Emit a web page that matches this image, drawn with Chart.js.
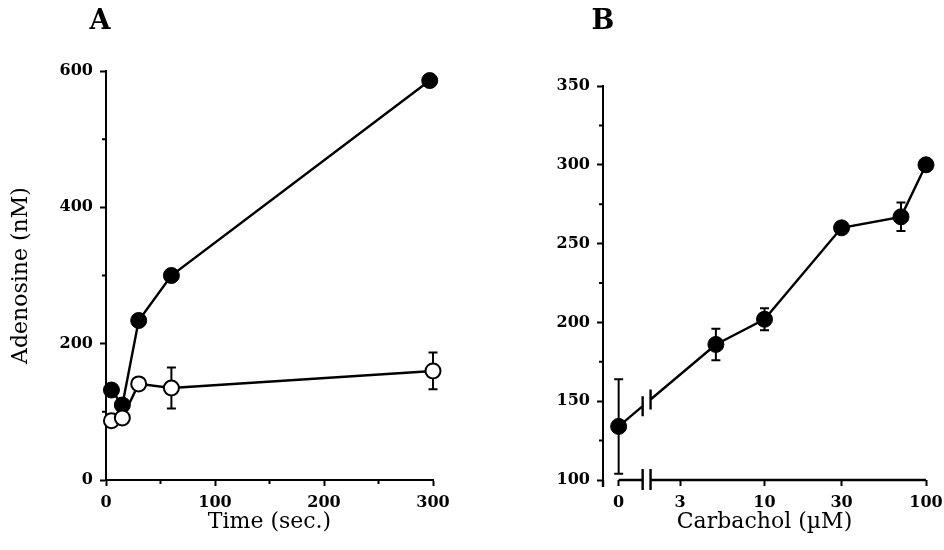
<!DOCTYPE html>
<html>
<head>
<meta charset="utf-8">
<script src="https://cdn.jsdelivr.net/npm/chart.js@4.4.1/dist/chart.umd.min.js"></script>
<style>
  body { margin: 0; background: #fff; }
  #wrap { position: relative; width: 944px; height: 550px; overflow: hidden; }
  canvas { position: absolute; top: 0; }
  #chartA { left: 0; }
  #chartB { left: 470px; }
</style>
</head>
<body>
<div id="wrap">
  <canvas id="chartA" width="480" height="550"></canvas>
  <canvas id="chartB" width="474" height="550"></canvas>
</div>
<script>
// panel A: adenosine vs time
const timeFilled = [5, 15, 30, 60, 297];
const adenoFilled = [132, 110, 234, 300, 586];
const timeOpen = [5, 15, 30, 60, 300];
const adenoOpen = [87, 91, 141, 135, 160];
const errOpen = [0, 0, 0, 30, 27];
const timeTicks = [0, 100, 200, 300];
const timeMinor = [50, 150, 250];
const adenoTicksA = [0, 200, 400, 600];
const adenoMinorA = [100, 300, 500];

// panel B: adenosine vs carbachol (log axis with a break after 0)
const carbachol = [0, 5, 10, 30, 70, 100];
const adenoB = [134, 186, 202, 260, 267, 300];
const errB = [30, 10, 7, 0, 9, 0];
const carbTicks = [0, 3, 10, 30, 100];
const carbTickLabels = ['0', '3', '10', '30', '100'];
const adenoTicksB = [100, 150, 200, 250, 300, 350];
const adenoMinorB = [125, 175, 225, 275, 325];
const ZERO_POS = 1.25;          // where "0" sits on the log axis
const breakAt = [1.76, 1.97];   // axis break between these values

const SERIF = '"DejaVu Serif", "Liberation Serif", serif';
const black = '#000';

function xyPoints(xs, ys) {
  return xs.map((x, i) => ({ x, y: ys[i] }));
}

function tickStyle() {
  return {
    grid: { display: true, drawOnChartArea: false, drawTicks: true, tickLength: 6, tickWidth: 2, tickColor: black },
    border: { display: true, color: black, width: 2 },
    ticks: { color: black, font: { family: SERIF, size: 16, weight: 'bold' }, padding: 7, autoSkip: false, maxRotation: 0 }
  };
}

const titleFont = { family: SERIF, size: 22 };

const errorBars = {
  id: 'errorBars',
  beforeDatasetsDraw(chart) {
    const ctx = chart.ctx;
    const yScale = chart.scales.y;
    ctx.save();
    ctx.strokeStyle = black;
    ctx.lineWidth = 2;
    chart.data.datasets.forEach((ds, i) => {
      if (!ds.errors) return;
      const meta = chart.getDatasetMeta(i);
      meta.data.forEach((pt, j) => {
        const e = ds.errors[j];
        if (!e) return;
        const v = ds.data[j].y;
        const top = yScale.getPixelForValue(v + e);
        const bot = yScale.getPixelForValue(v - e);
        ctx.beginPath();
        ctx.moveTo(pt.x, top); ctx.lineTo(pt.x, bot);
        ctx.moveTo(pt.x - 4.5, top); ctx.lineTo(pt.x + 4.5, top);
        ctx.moveTo(pt.x - 4.5, bot); ctx.lineTo(pt.x + 4.5, bot);
        ctx.stroke();
      });
    });
    ctx.restore();
  }
};

const extras = {
  id: 'extras',
  afterDraw(chart, args, opts) {
    const ctx = chart.ctx;
    const { x, y } = chart.scales;
    const area = chart.chartArea;
    ctx.save();
    ctx.strokeStyle = black;
    ctx.lineWidth = 2;
    ctx.beginPath();
    (opts.minorX || []).forEach(v => {
      const px = x.getPixelForValue(v);
      ctx.moveTo(px, area.bottom); ctx.lineTo(px, area.bottom + 4);
    });
    (opts.minorY || []).forEach(v => {
      const py = y.getPixelForValue(v);
      ctx.moveTo(area.left, py); ctx.lineTo(area.left - 4, py);
    });
    ctx.stroke();
    ctx.fillStyle = black;
    ctx.font = 'bold 27px ' + SERIF;
    ctx.textAlign = 'center';
    ctx.textBaseline = 'middle';
    ctx.fillText(opts.letter, opts.letterX, opts.letterY);
    ctx.restore();
  }
};

const axisBreak = {
  id: 'axisBreak',
  beforeDatasetsDraw(chart) {
    const ctx = chart.ctx;
    const { x } = chart.scales;
    const area = chart.chartArea;
    const b0 = x.getPixelForValue(breakAt[0]);
    const b1 = x.getPixelForValue(breakAt[1]);
    const zx = x.getPixelForValue(ZERO_POS);
    const meta = chart.getDatasetMeta(0);
    const p0 = meta.data[0], p1 = meta.data[1];
    const yAt = px => p0.y + (p1.y - p0.y) * (px - p0.x) / (p1.x - p0.x);
    const y0 = yAt(b0), y1 = yAt(b1);
    ctx.save();
    ctx.strokeStyle = black;
    ctx.lineWidth = 2;
    ctx.beginPath();
    // x axis with break
    ctx.moveTo(zx, area.bottom); ctx.lineTo(b0, area.bottom);
    ctx.moveTo(b1, area.bottom); ctx.lineTo(area.right, area.bottom);
    ctx.moveTo(b0, area.bottom - 11); ctx.lineTo(b0, area.bottom + 10);
    ctx.moveTo(b1, area.bottom - 11); ctx.lineTo(b1, area.bottom + 10);
    // y axis runs a little below 100
    ctx.moveTo(area.left, area.bottom); ctx.lineTo(area.left, area.bottom + 7);
    // broken data segment between 0 and the first dose
    ctx.lineWidth = 2.4;
    ctx.moveTo(p0.x, p0.y); ctx.lineTo(b0, y0);
    ctx.moveTo(b1, y1); ctx.lineTo(p1.x, p1.y);
    ctx.moveTo(b0, y0 - 10); ctx.lineTo(b0, y0 + 10);
    ctx.moveTo(b1, y1 - 10); ctx.lineTo(b1, y1 + 10);
    ctx.stroke();
    ctx.restore();
  }
};

// panel A
const sA = { x: tickStyle(), y: tickStyle() };
new Chart(document.getElementById('chartA'), {
  type: 'line',
  data: {
    datasets: [
      {
        data: xyPoints(timeOpen, adenoOpen), errors: errOpen,
        borderColor: black, borderWidth: 2.4, clip: false,
        pointRadius: 7.5, pointBackgroundColor: '#fff', pointBorderColor: black, pointBorderWidth: 2
      },
      {
        data: xyPoints(timeFilled, adenoFilled),
        borderColor: black, borderWidth: 2.4, clip: false,
        pointRadius: 8, pointBackgroundColor: black, pointBorderColor: black, pointBorderWidth: 1
      }
    ]
  },
  options: {
    responsive: false, animation: false,
    layout: { padding: { left: 0, top: 71, right: 47, bottom: 0 } },
    plugins: {
      legend: { display: false }, tooltip: { enabled: false },
      extras: { minorX: timeMinor, minorY: adenoMinorA, letter: 'A', letterX: 100, letterY: 22 }
    },
    scales: {
      x: {
        ...sA.x, type: 'linear', min: 0, max: 300,
        afterBuildTicks: s => { s.ticks = timeTicks.map(v => ({ value: v })); },
        afterFit: s => { s.height = 70; s.paddingLeft = 0; s.paddingRight = 0; },
        title: { display: true, text: 'Time (sec.)', color: black, font: titleFont, padding: { top: 0, bottom: 15 } }
      },
      y: {
        ...sA.y, type: 'linear', min: 0, max: 600,
        afterBuildTicks: s => { s.ticks = adenoTicksA.map(v => ({ value: v })); },
        afterFit: s => { s.width = 106; s.paddingTop = 0; s.paddingBottom = 0; },
        title: { display: true, text: 'Adenosine (nM)', color: black, font: titleFont, padding: { top: 8, bottom: 0 } }
      }
    }
  },
  plugins: [errorBars, extras]
});

// panel B
const sB = { x: tickStyle(), y: tickStyle() };
sB.x.border = { display: false };
new Chart(document.getElementById('chartB'), {
  type: 'line',
  data: {
    datasets: [
      {
        data: xyPoints(carbachol.map(c => (c === 0 ? ZERO_POS : c)), adenoB), errors: errB,
        borderColor: black, borderWidth: 2.4, clip: false,
        segment: { borderColor: c => (c.p0DataIndex === 0 ? 'rgba(0,0,0,0)' : black) },
        pointRadius: 8, pointBackgroundColor: black, pointBorderColor: black, pointBorderWidth: 1
      }
    ]
  },
  options: {
    responsive: false, animation: false,
    layout: { padding: { left: 0, top: 86, right: 18, bottom: 0 } },
    plugins: {
      legend: { display: false }, tooltip: { enabled: false },
      extras: { minorY: adenoMinorB, letter: 'B', letterX: 133, letterY: 22 }
    },
    scales: {
      x: {
        ...sB.x, type: 'logarithmic', min: 1, max: 100,
        afterBuildTicks: s => { s.ticks = carbTicks.map(v => ({ value: v === 0 ? ZERO_POS : v })); },
        afterFit: s => { s.height = 70; s.paddingLeft = 0; s.paddingRight = 0; },
        ticks: { ...sB.x.ticks, callback: (v, i) => carbTickLabels[i] },
        title: { display: true, text: 'Carbachol (µM)', color: black, font: titleFont, padding: { top: 0, bottom: 15 } }
      },
      y: {
        ...sB.y, type: 'linear', min: 100, max: 350,
        afterBuildTicks: s => { s.ticks = adenoTicksB.map(v => ({ value: v })); },
        afterFit: s => { s.width = 133; s.paddingTop = 0; s.paddingBottom = 0; }
      }
    }
  },
  plugins: [errorBars, axisBreak, extras]
});
</script>
</body>
</html>
